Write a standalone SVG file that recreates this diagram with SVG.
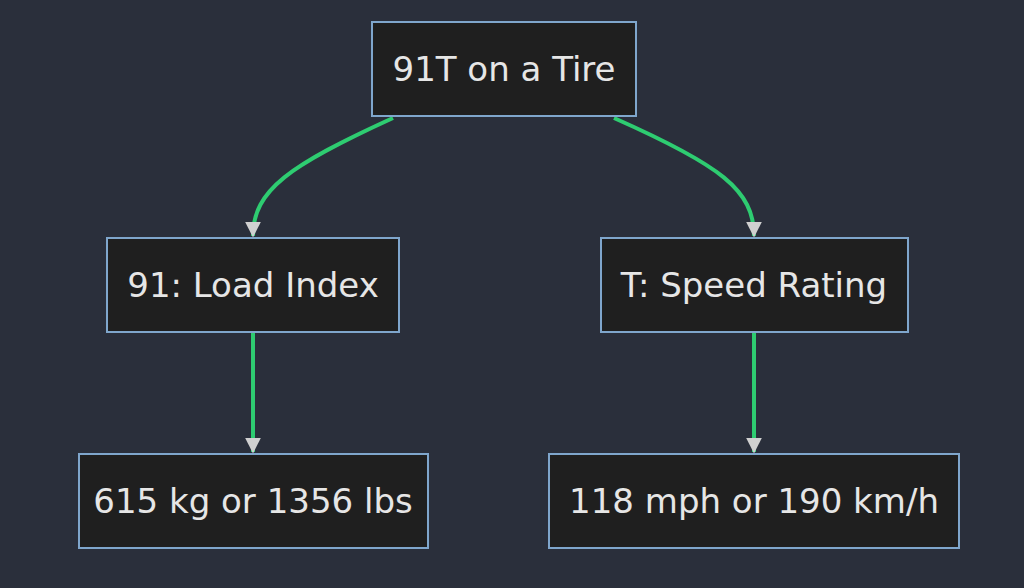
<svg xmlns="http://www.w3.org/2000/svg" width="1024" height="588" viewBox="0 0 1024 588">
<style>
.n rect{fill:#1f1f1f;stroke:#7fa6cc;stroke-width:2}
.n text{fill:#e6e6e6;font-family:"DejaVu Sans",sans-serif;font-size:34px;text-anchor:middle;dominant-baseline:central}
.e path{fill:none;stroke:#2ecc71;stroke-width:4;marker-end:url(#a)}
</style>
<defs><marker id="a" viewBox="0 0 10 10" refX="9" refY="5" markerWidth="4" markerHeight="4" orient="auto" markerUnits="strokeWidth"><path d="M0,0L10,5L0,10z" fill="#d0d0d0"/></marker></defs>
<rect width="1024" height="588" fill="#2a2f3b"/>
<g class="e">
<path d="M393,118 C290,165 253,190 253,236"/>
<path d="M614,118 C720,165 754,190 754,236"/>
<path d="M253,332 L253,452"/>
<path d="M754,332 L754,452"/>
</g>
<g class="n" id="top"><rect x="372" y="22" width="264" height="94"/><text x="504" y="69">91T on a Tire</text></g>
<g class="n" id="load"><rect x="107" y="238" width="292" height="94"/><text x="253" y="285">91: Load Index</text></g>
<g class="n" id="speed"><rect x="601" y="238" width="307" height="94"/><text x="754" y="285">T: Speed Rating</text></g>
<g class="n" id="kg"><rect x="79" y="454" width="349" height="94"/><text x="253" y="501">615 kg or 1356 lbs</text></g>
<g class="n" id="mph"><rect x="549" y="454" width="410" height="94"/><text x="754" y="501">118 mph or 190 km/h</text></g>
</svg>
